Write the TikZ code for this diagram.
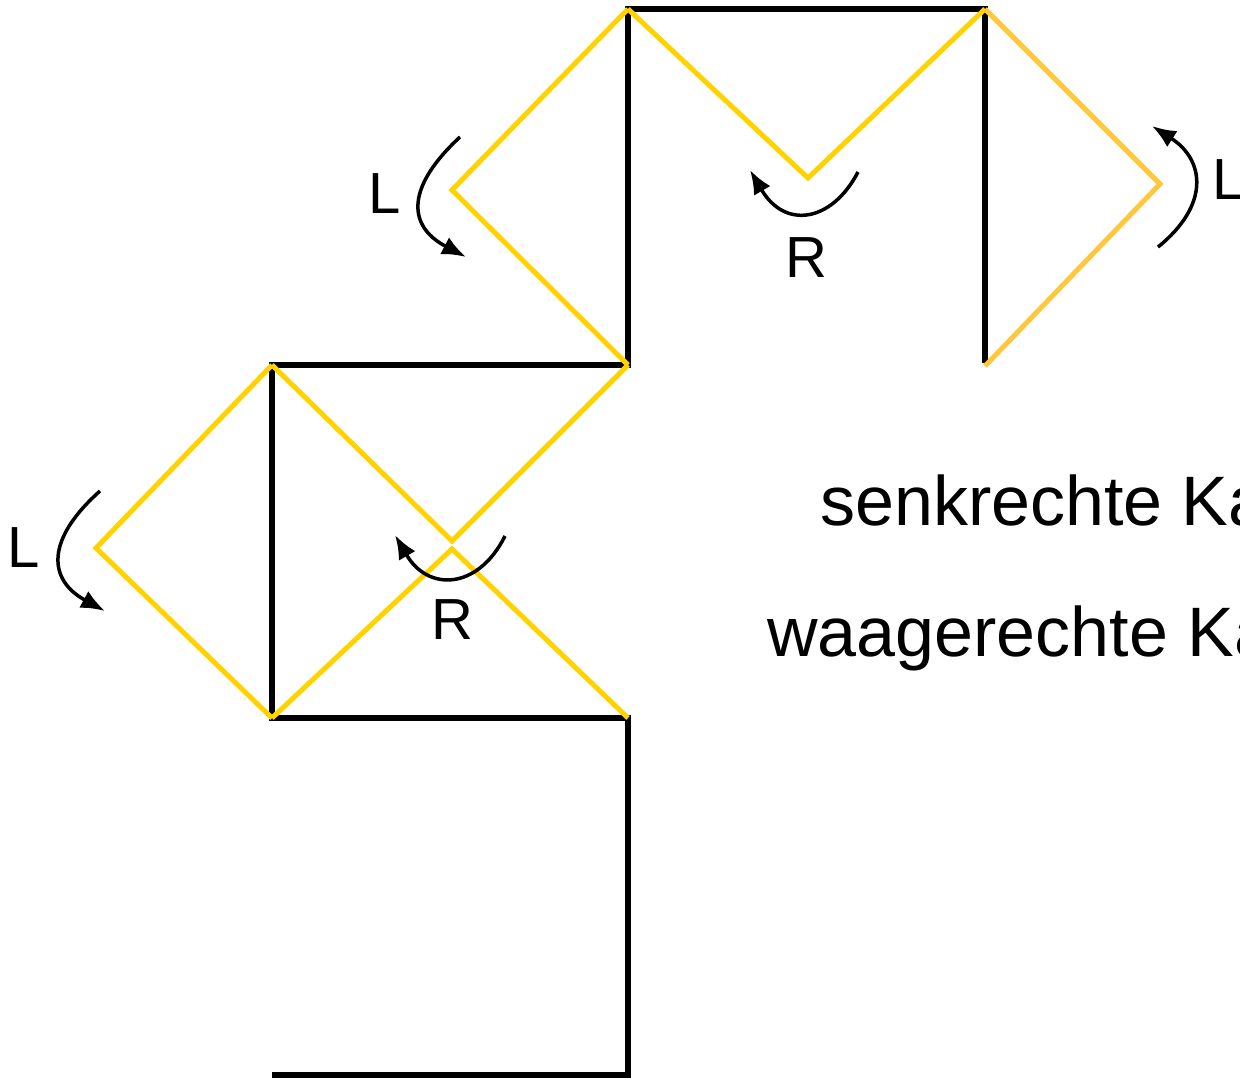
\documentclass[tikz,border=0pt]{standalone}
\usepackage{fontspec}
\setmainfont{Liberation Sans}
\usetikzlibrary{arrows.meta}
\definecolor{yel}{RGB}{255,210,0}
\definecolor{yelb}{RGB}{255,200,60}
\tikzset{
  edge/.style={line width=6pt, black, line join=miter},
  fold/.style={line width=5pt, yel, line join=miter},
  foldb/.style={line width=5pt, yelb, line join=miter},
  turn/.style={line width=3.5pt, -{Latex[length=24pt,width=19pt]}},
  lbl/.style={font=\fontsize{58}{60}\selectfont, inner sep=0pt},
  big/.style={font=\fontsize{70}{72}\selectfont, inner sep=0pt}
}
\begin{document}
\begin{tikzpicture}[x=1pt,y=-1pt]
\useasboundingbox (0,0) rectangle (1240,1078);
\clip (0,0) rectangle (1240,1078);
% corner coordinates
\coordinate (a) at (628,9);
\coordinate (b) at (985,9);
\coordinate (c) at (985,363);
\coordinate (d) at (628,365);
\coordinate (e) at (272,365);
\coordinate (f) at (272,718);
\coordinate (g) at (628,718);
\coordinate (h) at (628,1075);
\coordinate (i) at (272,1075);
\coordinate (p1) at (452,190);
\coordinate (p2) at (808,178);
\coordinate (p3) at (1160,184);
\coordinate (p4) at (96,548);
\coordinate (p5) at (452,541);
\coordinate (p6) at (452,549);
\coordinate (c3) at (985,366);
% black edges
\draw[edge] (c) -- (b) -- (a) -- (d) -- (e) -- (f) -- (g) -- (h) -- (i);
% yellow folds
\draw[fold] (a) -- (p1) -- (d);
\draw[fold] (a) -- (p2) -- (b);
\draw[foldb] (b) -- (p3) -- (c3);
\draw[fold] (e) -- (p4) -- (f);
\draw[fold] (e) -- (p5) -- (d);
\draw[fold] (f) -- (p6) -- (g);
% rotation arrows
\coordinate (s1) at (460,137); \coordinate (t1) at (466,257);
\draw[turn] (s1) .. controls (408,185) and (405,225) .. (t1);
\coordinate (s2) at (858,172); \coordinate (t2) at (750,170);
\draw[turn] (s2) .. controls (832,222) and (785,230) .. (t2);
\coordinate (s3) at (1158,247); \coordinate (t3) at (1152,126);
\draw[turn] (s3) .. controls (1210,205) and (1205,160) .. (t3);
\coordinate (s4) at (100,491); \coordinate (t4) at (105,611);
\draw[turn] (s4) .. controls (45,540) and (48,580) .. (t4);
\coordinate (s5) at (505,536); \coordinate (t5) at (395,535);
\draw[turn] (s5) .. controls (478,590) and (428,592) .. (t5);
% labels
\node[lbl] (l1) at (385,194) {L};
\node[lbl] (r1) at (806,258) {R};
\node[lbl, anchor=west] (l2) at (1212,180) {L};
\node[lbl] (l3) at (24,548) {L};
\node[lbl] (r2) at (452,620) {R};
\node[big, anchor=base west] (t1txt) at (820,525) {senkrechte Kante};
\node[big, anchor=base west] (t2txt) at (767,656) {waagerechte Kante};
\end{tikzpicture}
\end{document}
